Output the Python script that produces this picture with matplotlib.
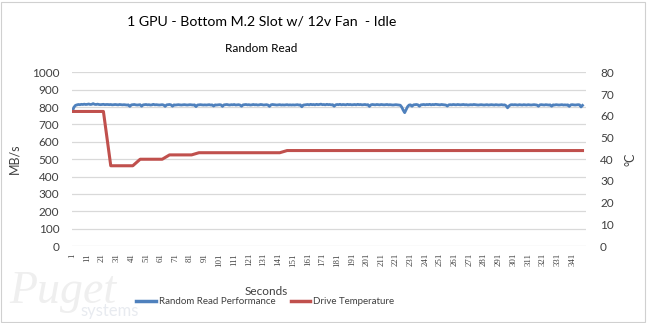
import numpy as np
import matplotlib.pyplot as plt
from matplotlib.patches import Rectangle

plt.rcParams['font.family'] = ['Lato', 'DejaVu Sans']

# random read throughput, one reading per second (MB/s)
read_mbps = [
    779, 800, 810, 813, 815, 814, 816, 815, 817, 815, 816, 818, 815, 816, 820, 816, 815, 817, 815, 814,
    815, 816, 814, 815, 815, 814, 815, 813, 814, 815, 814, 813, 815, 814, 813, 814, 813, 812, 813, 804,
    813, 814, 815, 813, 812, 813, 814, 805, 813, 814, 815, 813, 814, 812, 813, 816, 813, 814, 813, 812,
    813, 814, 812, 804, 813, 814, 815, 813, 805, 813, 812, 813, 814, 813, 812, 813, 814, 813, 812, 813,
    814, 813, 812, 813, 803, 812, 813, 814, 813, 812, 813, 812, 813, 814, 812, 813, 806, 813, 812, 813,
    814, 813, 804, 813, 814, 815, 813, 812, 814, 813, 815, 812, 813, 814, 812, 805, 813, 814, 815, 813,
    814, 812, 813, 815, 813, 814, 812, 813, 815, 814, 812, 813, 814, 812, 804, 813, 815, 814, 813, 812,
    813, 814, 812, 813, 812, 813, 814, 812, 813, 812, 813, 812, 813, 814, 812, 813, 802, 812, 813, 814,
    815, 813, 816, 814, 815, 813, 816, 814, 815, 817, 814, 815, 813, 816, 814, 815, 813, 814, 805, 813,
    815, 814, 816, 813, 815, 814, 813, 816, 814, 815, 813, 814, 815, 813, 816, 814, 815, 813, 814, 815,
    813, 814, 804, 813, 815, 814, 813, 815, 814, 813, 815, 814, 813, 814, 815, 813, 814, 813, 812, 813,
    814, 813, 812, 811, 800, 782, 768, 785, 803, 812, 813, 805, 813, 814, 815, 813, 805, 813, 814, 815,
    813, 815, 814, 816, 813, 815, 814, 816, 815, 814, 813, 815, 814, 813, 812, 806, 813, 814, 813, 815,
    814, 813, 815, 814, 813, 814, 815, 813, 814, 812, 813, 814, 813, 815, 814, 813, 812, 813, 814, 813,
    812, 813, 814, 812, 813, 814, 813, 812, 814, 813, 812, 813, 814, 812, 813, 808, 796, 807, 813, 814,
    813, 814, 813, 812, 814, 813, 812, 814, 813, 812, 814, 813, 812, 813, 814, 813, 812, 805, 813, 814,
    813, 812, 814, 813, 812, 813, 805, 813, 812, 814, 813, 812, 813, 814, 812, 813, 812, 813, 804, 813,
    814, 813, 812, 813, 814, 813, 801, 810,
]

# drive temperature readings (second, deg C)
temp_seconds = [1, 22, 27, 42, 47, 62, 67, 82, 87, 142, 147, 348]
temp_celsius = [62, 62, 37, 37, 40, 40, 42, 42, 43, 43, 44, 44]

n_categories = 350
tick_seconds = list(range(1, 342, 10))

blue = '#4f81bd'
red = '#c0504d'
grid = '#d9d9d9'
text_col = '#404040'

fig = plt.figure(figsize=(6.47, 3.23), dpi=100)
fig.patches.append(Rectangle((0.002, 0.004), 0.995, 0.99, transform=fig.transFigure,
                             fill=False, edgecolor='#d0d0d0', linewidth=0.8))

# faint logo in the lower left corner
fig.text(0.014, 0.062, 'Puget', fontsize=33, family='Liberation Serif', style='italic',
         color='#efefef', ha='left', va='baseline', zorder=0)
fig.text(0.125, 0.022, 'systems', fontsize=12, color='#e8ebf0', ha='left', va='baseline', zorder=0)

ax = fig.add_axes([0.111, 0.238, 0.795, 0.538])
ax.patch.set_alpha(0)
seconds = np.arange(1, len(read_mbps) + 1)
ax.plot(seconds, read_mbps, color=blue, linewidth=2.0, zorder=3)
ax.set_xlim(0.5, n_categories + 0.5)
ax.set_ylim(0, 1000)
ax.set_yticks(range(0, 1001, 100))
ax.grid(axis='y', color=grid, linewidth=0.9)
ax.set_axisbelow(True)
for s in ax.spines.values():
    s.set_visible(False)
ax.tick_params(axis='both', length=0, colors=text_col, labelsize=8.5)
ax.set_xticks(tick_seconds)
ax.set_xticklabels([str(t) for t in tick_seconds], rotation=90, fontsize=6.3,
                   family='Liberation Serif')
ax.tick_params(axis='x', pad=5)
ax.tick_params(axis='y', pad=9)
ax.set_ylabel('MB/s', fontsize=9, color=text_col, labelpad=8)

ax2 = ax.twinx()
ax2.plot(temp_seconds, temp_celsius, color=red, linewidth=2.2, zorder=2)
ax2.set_ylim(0, 80)
ax2.set_yticks(range(0, 81, 10))
for s in ax2.spines.values():
    s.set_visible(False)
ax2.tick_params(axis='y', length=0, colors=text_col, labelsize=8.5, pad=10)
ax2.set_ylabel('°C', fontsize=9, color=text_col, rotation=90, labelpad=8)

fig.text(0.404, 0.932, '1 GPU - Bottom M.2 Slot w/ 12v Fan  - Idle', fontsize=10.2,
         color='#000000', ha='center', va='center')
fig.text(0.404, 0.851, 'Random Read', fontsize=8.5, color='#000000', ha='center', va='center')
fig.text(0.411, 0.099, 'Seconds', fontsize=8.5, color=text_col, ha='center', va='center')

h1, = ax.plot([], [], color=blue, linewidth=2.5)
h2, = ax.plot([], [], color=red, linewidth=2.5)
leg = fig.legend([h1, h2], ['Random Read Performance', 'Drive Temperature'],
                 loc='center', bbox_to_anchor=(0.41, 0.066), ncol=2, frameon=False,
                 fontsize=7.0, handlelength=2.0, handletextpad=0.3, columnspacing=1.6)
for t in leg.get_texts():
    t.set_color(text_col)

fig.savefig('out.png', dpi=100)
